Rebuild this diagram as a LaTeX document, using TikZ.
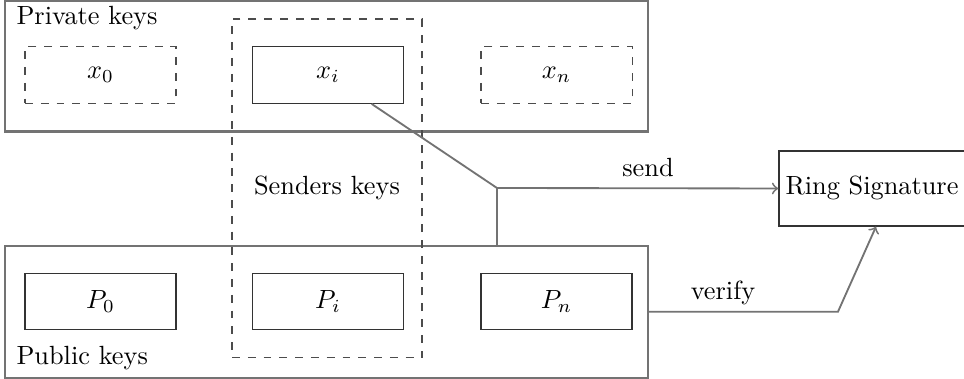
\documentclass[tikz,border=0pt]{standalone}
\usetikzlibrary{calc}
\begin{document}
\begin{tikzpicture}[x=0.38pt,y=-0.38pt,
  outer/.style={draw=black!55,line width=0.8pt,rectangle,inner sep=0},
  keybox/.style={draw=black!80,line width=0.5pt,rectangle,inner sep=0,minimum width=57.4pt,minimum height=21.5pt},
  dkeybox/.style={keybox,draw=black!70,line width=0.4pt,dashed},
  lbl/.style={inner sep=0,anchor=base},
  conn/.style={draw=black!55,line width=0.7pt},
  >=to]
\useasboundingbox (0,0) rectangle (964,379);
% outer boxes
\node[outer,minimum width=244.3pt,minimum height=49.8pt] (priv) at (326.5,66) {};
\node[outer,minimum width=244.3pt,minimum height=50.2pt] (pub) at (326.5,311.7) {};
% key boxes
\node[dkeybox] (x0) at (100.5,75) {$x_0$};
\node[keybox] (xi) at (328,75) {$x_i$};
\node[dkeybox] (xn) at (556.5,75) {$x_n$};
\node[keybox] (P0) at (100.5,301.5) {$P_0$};
\node[keybox] (Pi) at (328,301.5) {$P_i$};
\node[keybox] (Pn) at (556.5,301.5) {$P_n$};
% senders
\node[draw=black!70,line width=0.4pt,dashed,rectangle,inner sep=0,minimum width=72.2pt,minimum height=128.8pt] (snd) at (327,188.5) {};
\node[lbl] (sndl) at (327,195) {Senders keys};
% labels
\node[lbl,anchor=base west] (privl) at (16,25) {Private keys};
\node[lbl,anchor=base west] (publ) at (16,365) {Public keys};
% ring signature
\node[draw=black!80,line width=0.5pt,rectangle,inner sep=0,minimum width=71.1pt,minimum height=28.5pt] (ring) at (872.5,188.5) {};
\node[lbl] (ringl) at (872,195) {Ring Signature};
% connectors
\coordinate (j) at (497,188);
\coordinate (v) at (838,311.7);
\draw[conn,->] ($(xi.south)+(43.7,0)$) -- (j) -- (ring.west);
\draw[conn] (j) -- (j |- pub.north);
\draw[conn,->] (pub.east) -- (v) -- ($(ring.south)+(3.5,0)$);
\node[lbl] (sendl) at (648,177) {send};
\node[lbl] (verl) at (723,300) {verify};
\end{tikzpicture}
\end{document}
